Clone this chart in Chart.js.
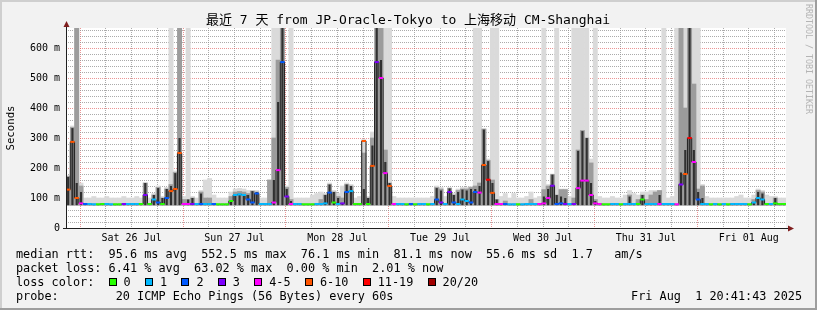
<!DOCTYPE html>
<html>
<head>
<meta charset="utf-8">
<script src="https://cdn.jsdelivr.net/npm/chart.js@4"></script>
<style>
  html, body { margin: 0; padding: 0; background: #f2f2f2; }
  canvas { display: block; }
</style>
</head>
<body>
<canvas id="ping" width="817" height="310"></canvas>
<script>
// time axis, hours counted from Sat 26 Jul 00:00
const startHour = -3.3047; // Fri 25 Jul 20:41:43
const endHour = 164.6953; // Fri 01 Aug 20:41:43
const dayLabels = ["Sat 26 Jul", "Sun 27 Jul", "Mon 28 Jul", "Tue 29 Jul", "Wed 30 Jul", "Thu 31 Jul", "Fri 01 Aug"];
const yMax = 666.67; // ms
const smokeFloor = 76; // ms

// one value per hour, median rtt in ms
const medianRtt = [
  128, 287, 100, 82, 80, 80, 79, 79, 80, 80, 79, 79,
  79, 80, 80, 80, 80, 80, 110, 80, 95, 85, 80, 100,
  123, 130, 250, 80, 80, 80, 80, 80, 80, 80, 80, 79,
  79, 79, 90, 110, 112, 110, 95, 85, 115, 80, 80, 80,
  85, 193, 553, 105, 80, 80, 80, 79, 79, 79, 80, 80,
  82, 118, 85, 80, 82, 120, 123, 80, 80, 290, 80, 207,
  553, 500, 183, 140, 80, 80, 80, 79, 80, 79, 80, 80,
  79, 80, 95, 85, 80, 120, 85, 80, 95, 90, 85, 120,
  118, 210, 161, 117, 80, 80, 80, 79, 79, 79, 79, 80,
  80, 80, 80, 82, 100, 141, 80, 82, 80, 80, 80, 133,
  158, 158, 110, 82, 80, 79, 79, 80, 80, 79, 80, 80,
  80, 80, 95, 80, 80, 80, 80, 80, 80, 80, 79, 145,
  180, 300, 220, 95, 80, 80, 79, 80, 79, 80, 79, 80,
  80, 80, 80, 79, 85, 100, 95, 80, 80, 82, 80, 80
];

// loss colour index per hour (0 = no loss ... 7 = 20/20)
const lossLevel = [
  5, 5, 5, 4, 2, 1, 1, 0, 0, 1, 1, 0,
  0, 3, 1, 1, 1, 0, 3, 0, 1, 2, 0, 2,
  5, 5, 5, 4, 4, 3, 1, 2, 1, 1, 2, 0,
  0, 0, 0, 1, 1, 1, 2, 2, 2, 1, 1, 1,
  4, 4, 2, 3, 4, 1, 1, 0, 0, 0, 1, 1,
  1, 2, 0, 1, 3, 2, 1, 0, 0, 5, 0, 5,
  3, 4, 4, 5, 4, 1, 1, 0, 2, 0, 1, 1,
  0, 1, 2, 3, 1, 3, 2, 1, 1, 1, 2, 2,
  4, 5, 6, 5, 4, 4, 2, 1, 1, 0, 1, 1,
  1, 1, 4, 4, 4, 3, 2, 2, 3, 1, 3, 4,
  4, 4, 4, 4, 4, 0, 0, 1, 1, 0, 1, 1,
  1, 0, 0, 1, 1, 1, 4, 1, 1, 1, 4, 3,
  5, 6, 4, 2, 1, 1, 0, 1, 0, 1, 0, 1,
  1, 1, 1, 0, 1, 1, 1, 0, 1, 0, 0, 0
];

// smoke tops per hour in ms (dark core, middle, outer)
const smokeDark = [
  170, 333, 150, 120, 80, 80, 79, 79, 80, 80, 79, 79,
  79, 80, 80, 80, 80, 80, 150, 80, 110, 133, 100, 130,
  140, 183, 300, 80, 95, 100, 80, 115, 80, 80, 80, 79,
  79, 79, 90, 110, 112, 110, 110, 123, 120, 80, 80, 80,
  160, 420, 700, 130, 90, 80, 80, 79, 79, 79, 80, 80,
  110, 145, 120, 100, 82, 145, 140, 80, 80, 130, 100, 275,
  700, 560, 220, 150, 80, 80, 80, 79, 80, 79, 80, 80,
  79, 80, 133, 125, 80, 132, 110, 120, 128, 125, 130, 130,
  140, 328, 223, 150, 95, 80, 80, 79, 79, 79, 79, 80,
  80, 80, 80, 105, 130, 178, 110, 105, 100, 80, 80, 257,
  323, 300, 150, 90, 80, 79, 79, 80, 80, 79, 80, 105,
  80, 80, 110, 80, 80, 80, 110, 80, 80, 80, 79, 185,
  260, 700, 260, 120, 100, 80, 79, 80, 79, 80, 79, 80,
  80, 80, 80, 79, 85, 120, 115, 80, 80, 100, 80, 80
];
const smokeMid = [
  172, 335, 700, 140, 80, 80, 79, 79, 80, 80, 79, 79,
  79, 80, 80, 80, 80, 80, 150, 80, 110, 135, 100, 130,
  145, 185, 700, 95, 95, 100, 80, 120, 100, 100, 80, 79,
  79, 79, 105, 120, 122, 120, 115, 123, 120, 80, 80, 160,
  300, 560, 700, 135, 95, 80, 80, 79, 79, 79, 80, 95,
  110, 145, 120, 105, 100, 145, 140, 80, 80, 250, 100, 300,
  700, 700, 260, 150, 80, 80, 80, 79, 80, 79, 80, 80,
  79, 80, 135, 130, 80, 132, 110, 125, 130, 130, 135, 140,
  150, 330, 225, 160, 95, 80, 90, 79, 79, 79, 79, 80,
  95, 80, 80, 128, 140, 178, 110, 128, 128, 80, 100, 260,
  325, 300, 217, 95, 80, 79, 79, 80, 80, 79, 80, 110,
  80, 95, 110, 95, 110, 120, 125, 80, 80, 80, 79, 700,
  400, 700, 480, 130, 140, 80, 79, 80, 79, 80, 79, 80,
  80, 80, 80, 79, 95, 125, 120, 80, 80, 100, 80, 80
];
const smokeHigh = [
  175, 340, 700, 150, 100, 100, 105, 100, 100, 105, 100, 100,
  100, 105, 100, 100, 105, 100, 150, 100, 115, 140, 105, 135,
  700, 190, 700, 105, 700, 105, 100, 125, 160, 165, 110, 100,
  100, 100, 120, 130, 132, 130, 125, 125, 125, 100, 100, 160,
  700, 700, 700, 140, 700, 100, 100, 100, 100, 110, 115, 120,
  115, 150, 125, 115, 140, 150, 145, 100, 105, 295, 105, 320,
  700, 700, 700, 700, 105, 100, 100, 100, 100, 100, 100, 100,
  100, 105, 140, 135, 105, 135, 115, 130, 135, 135, 138, 700,
  700, 330, 230, 700, 700, 105, 115, 100, 115, 100, 100, 105,
  120, 100, 105, 700, 145, 180, 700, 130, 130, 105, 700, 700,
  700, 700, 230, 700, 105, 100, 100, 105, 100, 100, 110, 125,
  115, 110, 120, 120, 125, 125, 125, 700, 100, 105, 700, 700,
  700, 700, 700, 700, 145, 105, 100, 100, 100, 100, 100, 100,
  105, 110, 100, 100, 110, 130, 125, 110, 105, 105, 100, 100
];

const lossColors = ["#26ff00", "#00b8ff", "#0059ff", "#7e00ff", "#ff00ff", "#ff5500", "#ff0000", "#a10000"];
const lossLabels = ["0", "1", "2", "3", "4-5", "6-10", "11-19", "20/20"];

const titleText = "最近 7 天 from JP-Oracle-Tokyo to 上海移动 CM-Shanghai";
const statLines = [
  "median rtt:  95.6 ms avg  552.5 ms max  76.1 ms min  81.1 ms now  55.6 ms sd  1.7   am/s",
  "packet loss: 6.41 % avg  63.02 % max  0.00 % min  2.01 % now"
];
const probeLine = "probe:        20 ICMP Echo Pings (56 Bytes) every 60s";
const stampText = "Fri Aug  1 20:41:43 2025";

const MONO = "'DejaVu Sans Mono', 'Noto Sans CJK SC', monospace";
const minorGrid = "rgba(143,143,143,0.75)";
const majorGrid = "rgba(222,79,79,0.6)";

const hours = medianRtt.map((_, i) => startHour + i + 0.5);

function smokeBand(tops) {
  return hours.map((x, i) => ({ x: x, y: [smokeFloor, tops[i]] }));
}

// background, frame and all the rrdtool text
const rrdFrame = {
  id: "rrdFrame",
  beforeDraw(chart) {
    const ctx = chart.ctx;
    const a = chart.chartArea;
    ctx.save();
    ctx.fillStyle = "#f2f2f2";
    ctx.fillRect(0, 0, chart.width, chart.height);
    ctx.fillStyle = "#cfcfcf";
    ctx.fillRect(0, 0, chart.width, 2);
    ctx.fillRect(0, 0, 2, chart.height);
    ctx.fillStyle = "#9e9e9e";
    ctx.fillRect(0, chart.height - 2, chart.width, 2);
    ctx.fillRect(chart.width - 2, 0, 2, chart.height);
    ctx.fillStyle = "#ffffff";
    ctx.fillRect(a.left, a.top, a.right - a.left, a.bottom - a.top);
    ctx.restore();
  },
  afterDraw(chart) {
    const ctx = chart.ctx;
    const a = chart.chartArea;
    ctx.save();

    // axes with arrows
    ctx.strokeStyle = "#1f1f1f";
    ctx.lineWidth = 1;
    ctx.beginPath();
    ctx.moveTo(a.left + 0.5, a.bottom + 0.5);
    ctx.lineTo(a.left + 0.5, a.top - 2);
    ctx.moveTo(a.left - 3, a.bottom + 0.5);
    ctx.lineTo(a.right + 3, a.bottom + 0.5);
    ctx.stroke();
    ctx.fillStyle = "#801f1f";
    ctx.beginPath();
    ctx.moveTo(a.left - 2.5, a.top - 1);
    ctx.lineTo(a.left + 3.5, a.top - 1);
    ctx.lineTo(a.left + 0.5, a.top - 7);
    ctx.closePath();
    ctx.fill();
    ctx.beginPath();
    ctx.moveTo(a.right + 2, a.bottom - 2.5);
    ctx.lineTo(a.right + 2, a.bottom + 3.5);
    ctx.lineTo(a.right + 8, a.bottom + 0.5);
    ctx.closePath();
    ctx.fill();

    // title
    ctx.fillStyle = "#000";
    ctx.textBaseline = "middle";
    ctx.textAlign = "center";
    ctx.font = "13px " + MONO;
    ctx.fillText(titleText, 408, 21);

    // y axis title
    ctx.save();
    ctx.translate(11, 128);
    ctx.rotate(-Math.PI / 2);
    ctx.font = "10.7px " + MONO;
    ctx.fillText("Seconds", 0, 0);
    ctx.restore();

    // watermark
    ctx.save();
    ctx.translate(808, 4);
    ctx.rotate(Math.PI / 2);
    ctx.textAlign = "left";
    ctx.fillStyle = "#b4b4b4";
    ctx.font = "8.3px " + MONO;
    ctx.fillText("RRDTOOL / TOBI OETIKER", 0, 0);
    ctx.restore();

    // legend block
    const cw = 7.12;
    ctx.textAlign = "left";
    ctx.font = "11.83px " + MONO;
    ctx.fillStyle = "#000";
    ctx.fillText(statLines[0], 16, 254.5);
    ctx.fillText(statLines[1], 16, 268.5);
    ctx.fillText("loss color:", 16, 282.5);
    ctx.fillText(probeLine, 16, 296.5);
    ctx.textAlign = "right";
    ctx.fillText(stampText, 802, 296.5);
    ctx.textAlign = "left";

    let bx = 16 + 13 * cw;
    lossLabels.forEach((label, i) => {
      const x = Math.round(bx);
      ctx.fillStyle = "#000";
      ctx.fillRect(x, 278, 8, 8);
      ctx.fillStyle = lossColors[i];
      ctx.fillRect(x + 1, 279, 6, 6);
      ctx.fillStyle = "#000";
      const lx = bx + 15;
      ctx.fillText(label, lx, 282.5);
      bx = lx + label.length * cw + 14.3;
    });

    ctx.restore();
  }
};

const barCommon = {
  type: "bar",
  grouped: false,
  barPercentage: 1,
  categoryPercentage: 1,
  borderWidth: 0
};

new Chart(document.getElementById("ping"), {
  type: "bar",
  data: {
    datasets: [
      {
        type: "line",
        data: hours.map((x, i) => ({ x: x, y: medianRtt[i] })),
        stepped: "middle",
        borderColor: "#1e1e1e",
        borderWidth: 1,
        pointStyle: "line",
        pointRadius: 2.15,
        pointBorderWidth: 2,
        pointBorderColor: lossLevel.map((l) => lossColors[l]),
        pointBackgroundColor: lossLevel.map((l) => lossColors[l]),
        order: 0
      },
      Object.assign({}, barCommon, { data: smokeBand(smokeDark), backgroundColor: "#303030", barPercentage: 0.5, order: 1 }),
      Object.assign({}, barCommon, { data: smokeBand(smokeMid), backgroundColor: "#9c9c9c", order: 2 }),
      Object.assign({}, barCommon, { data: smokeBand(smokeHigh), backgroundColor: "#dadada", order: 3 })
    ]
  },
  options: {
    responsive: false,
    devicePixelRatio: 1,
    animation: false,
    events: [],
    layout: { padding: { left: 0, top: 28, right: 31, bottom: 0 } },
    plugins: { legend: { display: false }, tooltip: { enabled: false } },
    scales: {
      x: {
        type: "linear",
        min: startHour,
        max: endHour,
        offset: false,
        z: 1,
        afterBuildTicks: (scale) => {
          const t = [];
          for (let h = 0; h < endHour; h += 6) t.push({ value: h });
          scale.ticks = t;
        },
        afterFit: (scale) => { scale.height = 82; },
        grid: {
          offset: false,
          drawTicks: false,
          lineWidth: 1,
          color: (c) => (c.tick && c.tick.value % 24 === 0 ? majorGrid : minorGrid)
        },
        border: { display: false, dash: [1, 1] },
        ticks: {
          autoSkip: false,
          maxRotation: 0,
          padding: 4,
          color: "#000",
          font: { family: MONO, size: 10 },
          callback: (v) => (v % 24 === 12 ? dayLabels[(v - 12) / 24] : "")
        }
      },
      y: {
        min: 0,
        max: yMax,
        z: 1,
        afterBuildTicks: (scale) => {
          const t = [];
          for (let v = 0; v < yMax; v += 20) t.push({ value: v });
          scale.ticks = t;
        },
        afterFit: (scale) => { scale.width = 66; },
        grid: {
          drawTicks: false,
          lineWidth: 1,
          color: (c) => (c.tick && c.tick.value % 100 === 0 ? majorGrid : minorGrid)
        },
        border: { display: false, dash: [1, 1] },
        ticks: {
          autoSkip: false,
          padding: 6,
          color: "#000",
          font: { family: MONO, size: 10 },
          callback: (v) => (v % 100 === 0 ? (v === 0 ? "0" : v + " m") : "")
        }
      }
    }
  },
  plugins: [rrdFrame]
});
</script>
</body>
</html>
